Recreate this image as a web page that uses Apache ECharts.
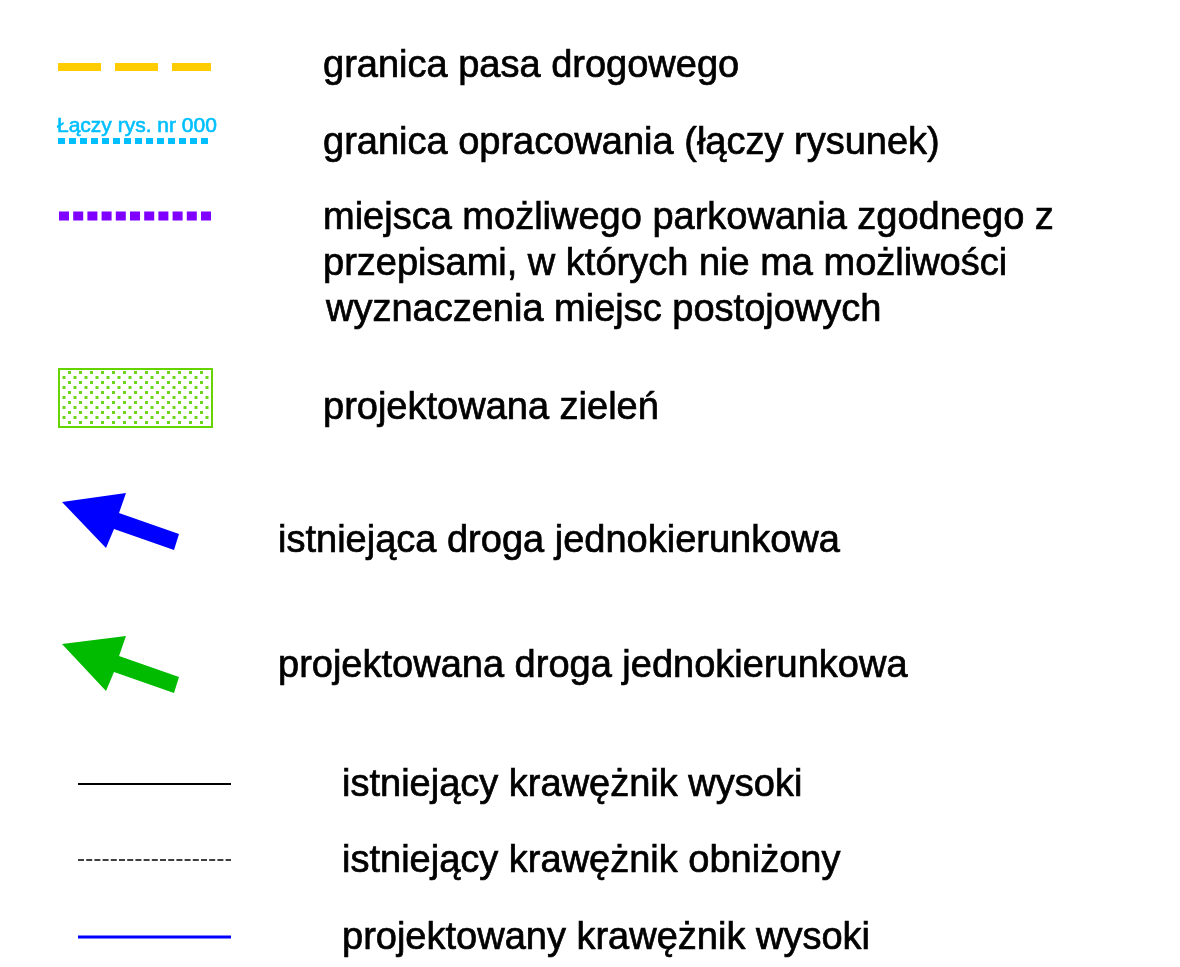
<!DOCTYPE html>
<html><head><meta charset="utf-8">
<script src="https://cdn.jsdelivr.net/npm/echarts@6/dist/echarts.min.js"></script>
<style>html,body{margin:0;padding:0;background:#fff}#c{width:1180px;height:967px}</style>
</head><body><div id="c"></div>
<script>
// ---- legend content (coordinates in the sheet's own units) ----
const labelText = [
  "granica pasa drogowego",
  "granica opracowania (łączy rysunek)",
  "miejsca możliwego parkowania zgodnego z",
  "przepisami, w których nie ma możliwości",
  "wyznaczenia miejsc postojowych",
  "projektowana zieleń",
  "istniejąca droga jednokierunkowa",
  "projektowana droga jednokierunkowa",
  "istniejący krawężnik wysoki",
  "istniejący krawężnik obniżony",
  "projektowany krawężnik wysoki"
];
const labelX = [323, 323, 323, 323, 326, 323, 278, 278, 342, 342, 342];
const labelY = [67, 144, 219, 265, 311, 409, 542, 667, 786, 862, 939];

const noteText = ["Łączy rys. nr 000"];
const noteX = [57];
const noteY = [126];

const roadBorder  = [[58, 67], [211, 67]];
const studyBorder = [[58, 141], [212, 141]];
const parking     = [[59, 216], [212, 216]];
const curbHigh    = [[78, 784], [231, 784]];
const curbLow     = [[78, 860], [231, 860]];
const curbNew     = [[78, 937], [231, 937]];

const greenArea = [[59, 369, 212, 427]];

const arrowExisting = [[62, 502], [126, 493], [119, 513], [179, 534], [174, 550], [114, 529], [106, 548]];
const arrowPlanned  = [[62, 644], [126, 636], [119, 656], [179, 677], [174, 693], [114, 672], [106, 691]];

// ---- dotted fill pattern ----
const pat = document.createElement('canvas');
pat.width = 11; pat.height = 10;
(function () {
  const g = pat.getContext('2d');
  g.fillStyle = '#6ed61a';
  g.fillRect(2, 1, 3, 3);
  g.fillRect(7.5, 6, 3, 3);
})();

const FONT = '"Liberation Sans", Arial, sans-serif';

function lineSeries(data, color, width, dash) {
  return {
    type: 'line', data: data, symbol: 'none', silent: true, animation: false,
    lineStyle: { color: color, width: width, type: dash || 'solid', cap: 'butt' }
  };
}

function textSeries(texts, xs, ys, size, color, weight) {
  return {
    type: 'custom', silent: true, animation: false,
    data: texts.map((t, i) => [xs[i], ys[i]]),
    renderItem: function (params, api) {
      const p = api.coord([api.value(0), api.value(1)]);
      return {
        type: 'text', x: p[0], y: p[1],
        style: { text: texts[params.dataIndex], fill: color, font: size + 'px ' + FONT,
                 stroke: color, lineWidth: weight,
                 align: 'left', verticalAlign: 'middle' }
      };
    }
  };
}

function polySeries(pts, color) {
  return {
    type: 'custom', silent: true, animation: false,
    data: [0],
    renderItem: function (params, api) {
      return { type: 'polygon', shape: { points: pts.map(q => api.coord(q)) }, style: { fill: color } };
    }
  };
}

const chart = echarts.init(document.getElementById('c'), null, { renderer: 'canvas' });
chart.setOption({
  backgroundColor: '#ffffff',
  animation: false,
  grid: { left: 0, right: 0, top: 0, bottom: 0 },
  xAxis: { type: 'value', min: 0, max: 1180, show: false },
  yAxis: { type: 'value', min: 0, max: 967, inverse: true, show: false },
  series: [
    lineSeries(roadBorder, '#ffcc00', 8, [43, 14]),
    lineSeries(studyBorder, '#00bfff', 6, [7, 4]),
    lineSeries(parking, '#7f00ff', 9, [10, 4.2]),
    lineSeries(curbHigh, '#000000', 2),
    lineSeries(curbLow, '#000000', 1.5, [6, 2.2]),
    lineSeries(curbNew, '#0000ff', 3),
    {
      type: 'custom', silent: true, animation: false,
      data: greenArea,
      renderItem: function (params, api) {
        const a = api.coord([api.value(0), api.value(1)]);
        const b = api.coord([api.value(2), api.value(3)]);
        return {
          type: 'group', children: [
            { type: 'rect', shape: { x: a[0], y: a[1], width: b[0] - a[0], height: b[1] - a[1] },
              style: { fill: { image: pat, repeat: 'repeat' } } },
            { type: 'rect', shape: { x: a[0], y: a[1], width: b[0] - a[0], height: b[1] - a[1] },
              style: { fill: 'none', stroke: '#66d400', lineWidth: 2 } }
          ]
        };
      }
    },
    polySeries(arrowExisting, '#0000ff'),
    polySeries(arrowPlanned, '#00bb00'),
    textSeries(noteText, noteX, noteY, 21, '#00bfff', 0.6),
    textSeries(labelText, labelX, labelY, 38, '#000000', 0.7)
  ]
});
</script></body></html>
